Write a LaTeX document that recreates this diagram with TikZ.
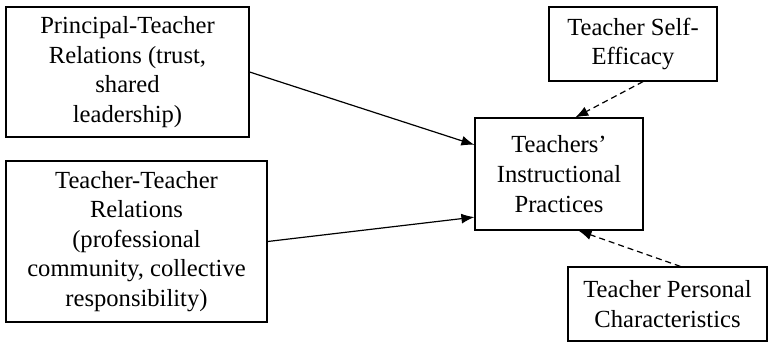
\documentclass[tikz,border=0pt]{standalone}
\usepackage{fontspec}
\setmainfont{Liberation Serif}
\usetikzlibrary{arrows.meta}

\begin{document}
\begin{tikzpicture}[x=0.5pt,y=-0.5pt,
  factor/.style={draw,line width=0.6pt,align=center,inner sep=0pt,
    font=\fontsize{12.3}{14.8}\selectfont},
  link/.style={-{Latex[length=6.5pt,width=5pt]},line width=0.6pt},
  dlink/.style={link,dash pattern=on 3pt off 2pt}]

  \useasboundingbox (0,0) rectangle (769,343);

  % boxes
  \node[factor,minimum width=121.5pt,minimum height=65pt] (pt) at (127.5,72)
    {Principal-Teacher\\Relations (trust,\\shared\\leadership)};
  \node[factor,minimum width=130.5pt,minimum height=80.5pt] (tt) at (136.5,241.5)
    {Teacher-Teacher\\Relations\\(professional\\community, collective\\responsibility)};
  \node[factor,minimum width=84pt,minimum height=56pt] (ip) at (559,174)
    {Teachers'\\Instructional\\Practices};
  \node[factor,minimum width=84pt,minimum height=37pt] (se) at (633,44)
    {Teacher Self-\\Efficacy};
  \node[factor,minimum width=99.5pt,minimum height=37pt] (pc) at (667.5,304)
    {Teacher Personal\\Characteristics};

  % arrows
  \draw[link] (pt.east) -- (ip.161);
  \draw[link] (tt.east) -- (ip.207);
  \draw[dlink] (se.-75) -- (ip.74);
  \draw[dlink] (pc.71) -- (ip.-71);
\end{tikzpicture}
\end{document}
